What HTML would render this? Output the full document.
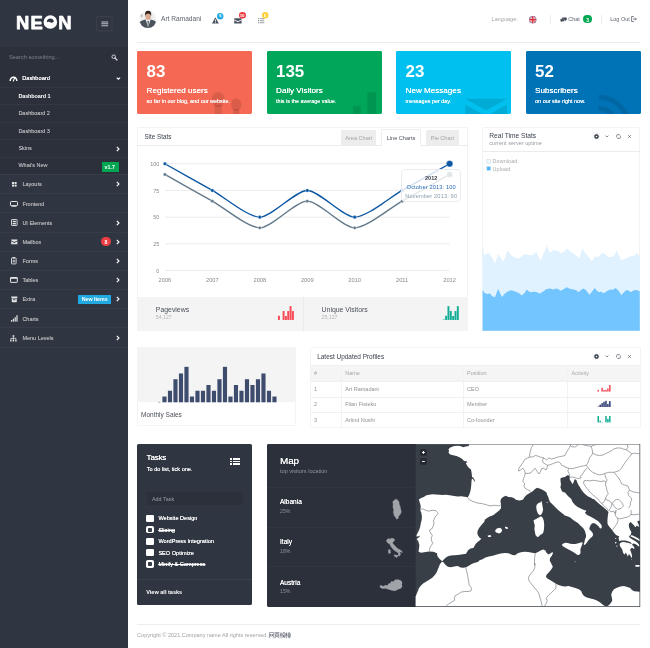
<!DOCTYPE html>
<html><head><meta charset="utf-8"><title>Neon Dashboard</title>
<style>
html,body{margin:0;padding:0}
body{width:650px;height:648px;position:relative;overflow:hidden;background:#fff;
 font-family:"Liberation Sans",sans-serif;font-size:5.5px;color:#949494}
.a{position:absolute}
.t{position:absolute;white-space:nowrap;line-height:10px;margin-top:-5px}
.b{font-weight:bold}
.w{color:#fff}
svg{position:absolute;overflow:visible}
.sb{left:0;top:0;width:128px;height:648px;background:#303641}
.ln{position:absolute;left:0;width:128px;height:1px;background:#373d48}
.mi{color:#b0b1b4;text-shadow:0 0 0.25px #aaabae}
.panel{position:absolute;border:0.6px solid #f3f3f3;box-sizing:border-box;background:#fff;border-radius:1.4px}
.tile{position:absolute;border-radius:1.4px;overflow:hidden}
.hd{color:#373e4a}
</style></head>
<body><div id="wrap" style="position:absolute;left:0;top:0;width:650px;height:648px;will-change:transform">
<div class="a sb"></div>
<svg style="left:0;top:0" width="128" height="46" viewBox="0 0 128 46"><g font-family="Liberation Sans, sans-serif" font-weight="bold" font-size="18.4" fill="#fff" stroke="#fff" stroke-width="0.75" stroke-linejoin="round"><text x="15.9" y="28.9">N</text><text x="30.6" y="28.9">E</text><text x="58.3" y="28.9">N</text></g><circle cx="50.35" cy="22.05" r="5.15" fill="none" stroke="#fff" stroke-width="3.3"/><path d="M46.6 22.6 Q48 21.2 50 22.2 Q52 23.2 54.1 21.6 L54.1 23 Q53.4 26 50.35 26 Q47.2 26 46.6 23.4 Z" fill="#fff"/><circle cx="51.9" cy="21.9" r="0.75" fill="#303641"/></svg>
<svg style="left:95.6px;top:15.6px" width="17" height="16" viewBox="0 0 17 16"><rect x="0.7" y="0.7" width="15.4" height="14.2" rx="1.2" fill="none" stroke="#454a54" stroke-width="0.6"/><path d="M5.4 5.9 H12.2 M5.4 7.8 H12.2 M5.4 9.7 H12.2" stroke="#bcbec2" stroke-width="1.05"/></svg>
<div class="a" style="left:0.00px;top:46.50px;width:128.00px;height:22.00px;background:#2b303a;"></div>
<div class="t " style="left:8.90px;top:57.20px;color:#7d818a;font-size:5.7px">Search something...</div>
<svg style="left:110.8px;top:54.2px" width="7" height="7" viewBox="0 0 7 7"><circle cx="2.7" cy="2.7" r="1.75" fill="none" stroke="#d0d2d5" stroke-width="1"/><path d="M4 4 L6 6" stroke="#d0d2d5" stroke-width="1.2" stroke-linecap="round"/></svg>
<div class="ln" style="top:68.5px;background:#353b46"></div>
<div class="a" style="left:0.00px;top:69.20px;width:128.00px;height:18.00px;background:#2b303a;"></div>
<svg style="left:9.4px;top:74.8px" width="9" height="7" viewBox="0 0 9 7"><path d="M1.2 6 A3.3 3.8 0 0 1 7.8 6" fill="none" stroke="#fff" stroke-width="1.5"/><path d="M4.3 6 L6 2.2" stroke="#fff" stroke-width="1.1" stroke-linecap="round"/></svg>
<div class="t w" style="left:22.20px;top:78.20px;font-size:5.65px;text-shadow:0 0 0.25px #fff">Dashboard</div>
<svg style="left:115.8px;top:76.8px" width="5" height="3" viewBox="0 0 5 3"><path d="M0.7 0.6 L2.4 2.2 L4.1 0.6" fill="none" stroke="#fff" stroke-width="1.05"/></svg>
<div class="a" style="left:0.00px;top:87.00px;width:128.00px;height:87.00px;background:#2b303a;"></div>
<div class="t w b" style="left:18.40px;top:96.00px;letter-spacing:-0.12px">Dashboard 1</div>
<div class="t mi" style="left:18.40px;top:113.30px;">Dashboard 2</div>
<div class="t mi" style="left:18.40px;top:130.60px;">Dashboard 3</div>
<div class="t mi" style="left:18.40px;top:147.80px;">Skins</div>
<div class="t mi" style="left:18.40px;top:165.20px;">What's New</div>
<div class="ln" style="top:87.0px;background:#323843"></div>
<div class="ln" style="top:104.4px;background:#323843"></div>
<div class="ln" style="top:121.8px;background:#323843"></div>
<div class="ln" style="top:139.2px;background:#323843"></div>
<div class="ln" style="top:156.6px;background:#323843"></div>
<svg style="left:116.00px;top:145.60px" width="4" height="6" viewBox="0 0 4 6"><path d="M0.8 0.8 L3 3 L0.8 5.2" fill="none" stroke="#fff" stroke-width="1.1"/></svg>
<div class="a" style="left:102.00px;top:161.60px;width:17.00px;height:10.00px;background:#00a651;"></div>
<div class="t w b" style="left:104.60px;top:166.70px;font-size:5.3px">v1.7</div>
<div class="t mi" style="left:22.40px;top:184.40px;">Layouts</div>
<svg style="left:116.00px;top:181.10px" width="4" height="6" viewBox="0 0 4 6"><path d="M0.8 0.8 L3 3 L0.8 5.2" fill="none" stroke="#fff" stroke-width="1.1"/></svg>
<div class="t mi" style="left:22.40px;top:203.50px;">Frontend</div>
<div class="t mi" style="left:22.40px;top:222.80px;">UI Elements</div>
<svg style="left:116.00px;top:219.50px" width="4" height="6" viewBox="0 0 4 6"><path d="M0.8 0.8 L3 3 L0.8 5.2" fill="none" stroke="#fff" stroke-width="1.1"/></svg>
<div class="t mi" style="left:22.40px;top:241.80px;">Mailbox</div>
<svg style="left:116.00px;top:238.50px" width="4" height="6" viewBox="0 0 4 6"><path d="M0.8 0.8 L3 3 L0.8 5.2" fill="none" stroke="#fff" stroke-width="1.1"/></svg>
<div class="t mi" style="left:22.40px;top:261.00px;">Forms</div>
<svg style="left:116.00px;top:257.70px" width="4" height="6" viewBox="0 0 4 6"><path d="M0.8 0.8 L3 3 L0.8 5.2" fill="none" stroke="#fff" stroke-width="1.1"/></svg>
<div class="t mi" style="left:22.40px;top:280.20px;">Tables</div>
<svg style="left:116.00px;top:276.90px" width="4" height="6" viewBox="0 0 4 6"><path d="M0.8 0.8 L3 3 L0.8 5.2" fill="none" stroke="#fff" stroke-width="1.1"/></svg>
<div class="t mi" style="left:22.40px;top:299.40px;">Extra</div>
<svg style="left:116.00px;top:296.10px" width="4" height="6" viewBox="0 0 4 6"><path d="M0.8 0.8 L3 3 L0.8 5.2" fill="none" stroke="#fff" stroke-width="1.1"/></svg>
<div class="t mi" style="left:22.40px;top:318.60px;">Charts</div>
<div class="t mi" style="left:22.40px;top:337.90px;">Menu Levels</div>
<svg style="left:116.00px;top:334.60px" width="4" height="6" viewBox="0 0 4 6"><path d="M0.8 0.8 L3 3 L0.8 5.2" fill="none" stroke="#fff" stroke-width="1.1"/></svg>
<div class="ln" style="top:173.6px"></div>
<div class="ln" style="top:192.9px"></div>
<div class="ln" style="top:212.2px"></div>
<div class="ln" style="top:231.5px"></div>
<div class="ln" style="top:250.6px"></div>
<div class="ln" style="top:269.7px"></div>
<div class="ln" style="top:288.9px"></div>
<div class="ln" style="top:308.1px"></div>
<div class="ln" style="top:327.3px"></div>
<div class="ln" style="top:346.5px"></div>
<svg style="left:11.5px;top:181.9px" width="5" height="5" viewBox="0 0 5 5"><rect x="0" y="0" width="2" height="2" fill="#e4e5e7"/><rect x="2.6" y="0" width="2" height="2" fill="#e4e5e7"/><rect x="0" y="2.6" width="2" height="2" fill="#e4e5e7"/><rect x="2.6" y="2.6" width="2" height="2" fill="#e4e5e7"/></svg>
<svg style="left:10px;top:200.6px" width="8" height="6" viewBox="0 0 8 6"><rect x="0.5" y="0.5" width="7" height="4.2" rx="0.8" fill="none" stroke="#e4e5e7" stroke-width="1"/><rect x="1.6" y="4.6" width="4.8" height="1.1" fill="#e4e5e7"/></svg>
<svg style="left:10.6px;top:219.2px" width="7" height="7" viewBox="0 0 7 7"><rect x="0.5" y="0.5" width="5.6" height="6" rx="0.6" fill="none" stroke="#e4e5e7" stroke-width="0.9"/><rect x="1.7" y="1.8" width="3.2" height="1.2" fill="#e4e5e7"/><rect x="1.7" y="3.8" width="3.2" height="1.6" fill="#e4e5e7"/></svg>
<svg style="left:10.6px;top:239px" width="7" height="6" viewBox="0 0 7 6"><path d="M0.2 0.4 H6.4 V1.4 L3.3 3.1 L0.2 1.4 Z" fill="#e4e5e7"/><path d="M0.2 2.3 L3.3 4 L6.4 2.3 V5.2 H0.2 Z" fill="#e4e5e7"/></svg>
<div class="a" style="left:101.3px;top:236.7px;width:9.6px;height:9.6px;border-radius:5px;background:#ee3d43"></div>
<div class="t w b" style="left:104.50px;top:241.80px;font-size:5.2px">8</div>
<svg style="left:11px;top:257.4px" width="6" height="8" viewBox="0 0 6 8"><rect x="0.5" y="0.9" width="4.6" height="6" rx="0.6" fill="none" stroke="#e4e5e7" stroke-width="0.9"/><rect x="1.7" y="0" width="2.2" height="1.4" fill="#e4e5e7"/><rect x="1.7" y="2.8" width="2.2" height="2.6" fill="#e4e5e7" opacity=".7"/></svg>
<svg style="left:10px;top:277.2px" width="8" height="6" viewBox="0 0 8 6"><rect x="0.5" y="0.5" width="6.8" height="4.9" rx="0.5" fill="none" stroke="#e4e5e7" stroke-width="1"/><rect x="0.5" y="0.5" width="6.8" height="1.3" fill="#e4e5e7"/></svg>
<svg style="left:10.6px;top:296px" width="7" height="7" viewBox="0 0 7 7"><path d="M0.3 0.6 H6.3 V2.2 H0.3 Z M0.8 2.7 H5.8 V5.4 Q5.8 6.3 4.9 6.3 H1.7 Q0.8 6.3 0.8 5.4 Z" fill="#e4e5e7"/><rect x="2.2" y="3.3" width="2.2" height="0.9" fill="#303641"/></svg>
<div class="a" style="left:78.40px;top:294.50px;width:32.60px;height:9.40px;background:#21a9e1;"></div>
<div class="t w b" style="left:81.80px;top:299.30px;font-size:5.3px;letter-spacing:-0.05px">New Items</div>
<svg style="left:11px;top:315px" width="7" height="7" viewBox="0 0 7 7"><rect x="0" y="5" width="1.2" height="1.6" fill="#e4e5e7"/><rect x="1.8" y="3.8" width="1.2" height="2.8" fill="#e4e5e7"/><rect x="3.6" y="2.2" width="1.2" height="4.4" fill="#e4e5e7"/><rect x="5.4" y="0.2" width="1.2" height="6.4" fill="#e4e5e7"/></svg>
<svg style="left:10.4px;top:334.6px" width="7" height="7" viewBox="0 0 7 7"><path d="M3.4 1.6 V3.4 M0.9 5.2 V3.4 H5.9 V5.2 M3.4 3.4 V5.2" fill="none" stroke="#e4e5e7" stroke-width="0.8"/><rect x="2.6" y="0.2" width="1.6" height="1.6" fill="#e4e5e7"/><rect x="0.2" y="5" width="1.4" height="1.5" fill="#e4e5e7"/><rect x="2.7" y="5" width="1.4" height="1.5" fill="#e4e5e7"/><rect x="5.2" y="5" width="1.4" height="1.5" fill="#e4e5e7"/></svg>
<svg style="left:138.5px;top:10.1px" width="17.7" height="18.2" viewBox="0 0 18 18" preserveAspectRatio="none"><defs><clipPath id="av"><circle cx="9" cy="9" r="8.9"/></clipPath><radialGradient id="avg" cx="0.5" cy="0.5" r="0.5"><stop offset="0.75" stop-color="#eeeeef"/><stop offset="1" stop-color="#f9f9f9"/></radialGradient></defs><g clip-path="url(#av)"><rect width="18" height="18" fill="url(#avg)"/><ellipse cx="2.6" cy="5.6" rx="1" ry="1.6" fill="#b9b9bb"/><path d="M-1 18 V13 Q2.5 10 6.6 9.3 L9.3 13.4 L12 9.3 Q15.8 10 19 13 V18 Z" fill="#4d535c"/><path d="M6.9 9.3 L9.3 17.6 L11.7 9.3 L9.3 10.6 Z" fill="#eef0f2"/><ellipse cx="9.3" cy="6.3" rx="2.85" ry="3.7" fill="#dba891"/><path d="M6.2 6 Q5.6 0.6 9.3 0.7 Q13 0.6 12.4 6 Q11.8 3.4 9.3 3.5 Q6.8 3.4 6.2 6 Z" fill="#2f2320"/><path d="M8.7 11 L9.3 18 L9.95 11 Z" fill="#25323a"/></g></svg>
<div class="t " style="left:161.00px;top:19.00px;font-size:6.6px;color:#5e646e">Art Ramadani</div>
<svg style="left:211.9px;top:17px" width="7" height="7" viewBox="0 0 7 7"><path d="M3.4 0.2 L6.8 6.6 H0 Z" fill="#4b5260"/><rect x="3" y="2.4" width="0.8" height="2.2" fill="#fff"/><rect x="3" y="5.1" width="0.8" height="0.8" fill="#fff"/></svg>
<svg style="left:217.3px;top:12.5px" width="6.4" height="6.4" viewBox="0 0 6.4 6.4"><circle cx="3.2" cy="3.2" r="3.2" fill="#21a9e1"/></svg>
<div class="t w b" style="left:219.30px;top:15.90px;font-size:4.4px">6</div>
<svg style="left:234px;top:17.7px" width="8" height="6" viewBox="0 0 8 6"><path d="M0.2 0.3 H7.6 V1.4 L3.9 3.3 L0.2 1.4 Z" fill="#4b5260"/><path d="M0.2 2.3 L3.9 4.2 L7.6 2.3 V5.4 H0.2 Z" fill="#4b5260"/></svg>
<svg style="left:238.6px;top:12.2px" width="7" height="6.4" viewBox="0 0 7 6.4"><rect x="0" y="0" width="7" height="6.4" rx="3.2" fill="#ee3d43"/></svg>
<div class="t w b" style="left:239.80px;top:15.60px;font-size:4.4px;letter-spacing:-0.15px">10</div>
<svg style="left:257.6px;top:17.6px" width="7" height="6" viewBox="0 0 7 6"><g fill="#8d929a"><rect x="0" y="0.2" width="1.1" height="1.1"/><rect x="1.8" y="0.3" width="4.5" height="0.9"/><rect x="0" y="2.2" width="1.1" height="1.1"/><rect x="1.8" y="2.3" width="4.5" height="0.9"/><rect x="0" y="4.2" width="1.1" height="1.1"/><rect x="1.8" y="4.3" width="4.5" height="0.9"/></g></svg>
<svg style="left:261.8px;top:12.2px" width="6.4" height="6.4" viewBox="0 0 6.4 6.4"><circle cx="3.2" cy="3.2" r="3.2" fill="#fcd036"/></svg>
<div class="t w b" style="left:263.80px;top:15.60px;font-size:4.4px">5</div>
<div class="t " style="left:491.60px;top:19.40px;font-size:5.4px;color:#a3a5a9;letter-spacing:0.08px">Language:</div>
<svg style="left:528.8px;top:15.8px" width="7.6" height="7.6" viewBox="0 0 8 8"><defs><clipPath id="fl"><circle cx="4" cy="4" r="3.9"/></clipPath></defs><g clip-path="url(#fl)"><rect width="8" height="8" fill="#2b3f8f"/><path d="M0 0 L8 8 M8 0 L0 8" stroke="#f2d7dc" stroke-width="1.6"/><path d="M0 0 L8 8 M8 0 L0 8" stroke="#d8343f" stroke-width="0.7"/><path d="M4 0 V8 M0 4 H8" stroke="#f5e6e8" stroke-width="2.6"/><path d="M4 0 V8 M0 4 H8" stroke="#d8343f" stroke-width="1.5"/></g></svg>
<div class="a" style="left:550.00px;top:14.60px;width:0.50px;height:9.40px;background:#ececec;"></div>
<svg style="left:559.6px;top:16.6px" width="7" height="6" viewBox="0 0 7 6"><path d="M2.6 0.4 H6 Q6.7 0.4 6.7 1.1 V2.6 Q6.7 3.3 6 3.3 H5.6 L5.8 4.3 L4.4 3.3 H2.6 Q1.9 3.3 1.9 2.6 V1.1 Q1.9 0.4 2.6 0.4 Z" fill="#3d4450"/><path d="M0.9 1.8 H3.6 Q4.2 1.8 4.2 2.4 V3.8 Q4.2 4.4 3.6 4.4 H2.2 L1.1 5.3 L1.3 4.4 H0.9 Q0.3 4.4 0.3 3.8 V2.4 Q0.3 1.8 0.9 1.8 Z" fill="#3d4450" stroke="#fff" stroke-width="0.3"/></svg>
<div class="t " style="left:568.20px;top:19.40px;font-size:5.5px;color:#5e646e">Chat</div>
<div class="a" style="left:582.9px;top:15.4px;width:9.6px;height:8px;border-radius:4px;background:#00a651"></div>
<div class="t w b" style="left:586.20px;top:19.50px;font-size:5px">3</div>
<div class="a" style="left:601.00px;top:14.60px;width:0.50px;height:9.40px;background:#ececec;"></div>
<div class="t " style="left:610.20px;top:19.40px;font-size:5.5px;color:#5e646e">Log Out</div>
<svg style="left:630.8px;top:16.4px" width="6" height="6" viewBox="0 0 6 6"><path d="M2.8 0.5 H0.6 V5.5 H2.8" fill="none" stroke="#5e646e" stroke-width="0.8"/><path d="M2 3 H5.4 M4 1.6 L5.4 3 L4 4.4" fill="none" stroke="#5e646e" stroke-width="0.8"/></svg>
<div class="a" style="left:137.00px;top:42.00px;width:503.40px;height:0.60px;background:#ebebeb;"></div>
<div class="tile" style="left:137.0px;top:51px;width:115px;height:62.8px;background:#f56954">
<svg style="left:0;top:0" width="115" height="63" viewBox="0 0 115 63"><g fill="rgba(0,0,0,0.11)"><ellipse cx="81.2" cy="48.6" rx="6.5" ry="7.7"/><rect x="77.6" y="54" width="7.2" height="9"/><ellipse cx="99.3" cy="53.6" rx="5.2" ry="6.3"/><rect x="96.2" y="58" width="6.2" height="5"/></g></svg>
<div class="t w b" style="left:9.50px;top:21.30px;font-size:16.9px;line-height:20px;margin-top:-10px">83</div>
<div class="t w" style="left:9.60px;top:40.20px;font-size:8.1px;text-shadow:0 0 0.25px #fff">Registered users</div>
<div class="t w" style="left:9.60px;top:49.70px;font-size:5.45px;text-shadow:0 0 0.2px #fff">so far in our blog, and our website.</div>
</div>
<div class="tile" style="left:266.5px;top:51px;width:115px;height:62.8px;background:#00a65a">
<svg style="left:0;top:0" width="115" height="63" viewBox="0 0 115 63"><g fill="rgba(0,0,0,0.1)"><rect x="86" y="54.8" width="7.9" height="8"/><rect x="100.3" y="41.3" width="8.8" height="21.5"/></g></svg>
<div class="t w b" style="left:9.50px;top:21.30px;font-size:16.9px;line-height:20px;margin-top:-10px">135</div>
<div class="t w" style="left:9.60px;top:40.20px;font-size:8.1px;text-shadow:0 0 0.25px #fff">Daily Visitors</div>
<div class="t w" style="left:9.60px;top:49.70px;font-size:5.45px;text-shadow:0 0 0.2px #fff">this is the average value.</div>
</div>
<div class="tile" style="left:396.0px;top:51px;width:115px;height:62.8px;background:#00c0ef">
<svg style="left:0;top:0" width="115" height="63" viewBox="0 0 115 63"><g fill="rgba(0,0,0,0.1)"><path d="M69.3 47.8 H111.1 L90.2 59.6 Z"/><path d="M69.3 53.4 L90.2 65.2 L111.1 53.4 V63 H69.3 Z"/></g></svg>
<div class="t w b" style="left:9.50px;top:21.30px;font-size:16.9px;line-height:20px;margin-top:-10px">23</div>
<div class="t w" style="left:9.60px;top:40.20px;font-size:8.1px;text-shadow:0 0 0.25px #fff">New Messages</div>
<div class="t w" style="left:9.60px;top:49.70px;font-size:5.45px;text-shadow:0 0 0.2px #fff">messages per day.</div>
</div>
<div class="tile" style="left:525.5px;top:51px;width:115px;height:62.8px;background:#0073b7">
<svg style="left:0;top:0" width="115" height="63" viewBox="0 0 115 63"><g fill="none" stroke="rgba(0,0,0,0.1)" stroke-width="4.9"><path d="M72.7 46.2 A29.6 29.6 0 0 1 102.3 75.8"/><path d="M72.7 57.5 A18.3 18.3 0 0 1 91 75.8"/></g></svg>
<div class="t w b" style="left:9.50px;top:21.30px;font-size:16.9px;line-height:20px;margin-top:-10px">52</div>
<div class="t w" style="left:9.60px;top:40.20px;font-size:8.1px;text-shadow:0 0 0.25px #fff">Subscribers</div>
<div class="t w" style="left:9.60px;top:49.70px;font-size:5.45px;text-shadow:0 0 0.2px #fff">on our site right now.</div>
</div>
<div class="panel" style="left:136.6px;top:126.6px;width:331.8px;height:204.6px"></div>
<div class="a" style="left:137.20px;top:145.20px;width:330.60px;height:0.60px;background:#ebebeb;"></div>
<div class="t hd" style="left:144.40px;top:136.50px;font-size:6.3px">Site Stats</div>
<div class="a" style="left:340.50px;top:130.40px;width:35.60px;height:14.90px;background:#ededee;border-radius:1.2px 1.2px 0 0"></div>
<div class="t " style="left:345.30px;top:137.90px;font-size:5.55px;color:#a1a3a7">Area Chart</div>
<div class="a" style="left:381.4px;top:128.9px;width:39.2px;height:17.4px;background:#fff;border:0.6px solid #efefef;border-bottom:none;box-sizing:border-box;border-radius:1.2px 1.2px 0 0"></div>
<div class="t " style="left:386.70px;top:137.90px;font-size:5.6px;color:#4a505b">Line Charts</div>
<div class="a" style="left:425.90px;top:130.40px;width:32.90px;height:14.90px;background:#ededee;border-radius:1.2px 1.2px 0 0"></div>
<div class="t " style="left:430.80px;top:137.90px;font-size:5.55px;color:#a1a3a7">Pie Chart</div>
<svg style="left:0;top:0" width="650" height="648" viewBox="0 0 650 648"><path d="M165,163.75 H449.6" stroke="#e6e6e6" stroke-width="0.8"/><path d="M165,190.45 H449.6" stroke="#e6e6e6" stroke-width="0.8"/><path d="M165,217.15 H449.6" stroke="#e6e6e6" stroke-width="0.8"/><path d="M165,243.85 H449.6" stroke="#e6e6e6" stroke-width="0.8"/><path d="M165,270.55 H449.6" stroke="#e6e6e6" stroke-width="0.8"/><path d="M164.90,174.43C176.76,181.11,200.49,194.45,212.35,201.13C224.21,207.80,247.94,227.83,259.80,227.83C271.66,227.83,295.39,201.13,307.25,201.13C319.11,201.13,342.84,227.83,354.70,227.83C366.56,227.83,390.29,207.80,402.15,201.13C414.01,194.45,437.74,181.11,449.60,174.43" fill="none" stroke="#61798b" stroke-width="1.4"/><path d="M164.90,163.75C176.76,170.43,200.49,183.77,212.35,190.45C224.21,197.12,247.94,217.15,259.80,217.15C271.66,217.15,295.39,190.45,307.25,190.45C319.11,190.45,342.84,217.15,354.70,217.15C366.56,217.15,390.29,197.12,402.15,190.45C414.01,183.77,437.74,170.43,449.60,163.75" fill="none" stroke="#0b57a4" stroke-width="1.4"/><circle cx="164.90" cy="174.43" r="1.70" fill="#61798b" stroke="#fff" stroke-width="0.4"/><circle cx="212.35" cy="201.13" r="1.70" fill="#61798b" stroke="#fff" stroke-width="0.4"/><circle cx="259.80" cy="227.83" r="1.70" fill="#61798b" stroke="#fff" stroke-width="0.4"/><circle cx="307.25" cy="201.13" r="1.70" fill="#61798b" stroke="#fff" stroke-width="0.4"/><circle cx="354.70" cy="227.83" r="1.70" fill="#61798b" stroke="#fff" stroke-width="0.4"/><circle cx="402.15" cy="201.13" r="1.70" fill="#61798b" stroke="#fff" stroke-width="0.4"/><circle cx="449.60" cy="174.43" r="3.00" fill="#61798b" stroke="#fff" stroke-width="0.4"/><circle cx="164.90" cy="163.75" r="1.80" fill="#0b57a4" stroke="#fff" stroke-width="0.4"/><circle cx="212.35" cy="190.45" r="1.80" fill="#0b57a4" stroke="#fff" stroke-width="0.4"/><circle cx="259.80" cy="217.15" r="1.80" fill="#0b57a4" stroke="#fff" stroke-width="0.4"/><circle cx="307.25" cy="190.45" r="1.80" fill="#0b57a4" stroke="#fff" stroke-width="0.4"/><circle cx="354.70" cy="217.15" r="1.80" fill="#0b57a4" stroke="#fff" stroke-width="0.4"/><circle cx="402.15" cy="190.45" r="1.80" fill="#0b57a4" stroke="#fff" stroke-width="0.4"/><circle cx="449.60" cy="163.75" r="3.30" fill="#0b57a4" stroke="#fff" stroke-width="0.4"/></svg>
<div class="t" style="left:130px;width:29.2px;text-align:right;top:163.85px;font-size:5.4px;color:#888">100</div>
<div class="t" style="left:130px;width:29.2px;text-align:right;top:190.55px;font-size:5.4px;color:#888">75</div>
<div class="t" style="left:130px;width:29.2px;text-align:right;top:217.25px;font-size:5.4px;color:#888">50</div>
<div class="t" style="left:130px;width:29.2px;text-align:right;top:243.95px;font-size:5.4px;color:#888">25</div>
<div class="t" style="left:130px;width:29.2px;text-align:right;top:270.65px;font-size:5.4px;color:#888">0</div>
<div class="t" style="left:144.90px;width:40px;text-align:center;top:280.1px;font-size:5.7px;color:#8a8a8a">2006</div>
<div class="t" style="left:192.35px;width:40px;text-align:center;top:280.1px;font-size:5.7px;color:#8a8a8a">2007</div>
<div class="t" style="left:239.80px;width:40px;text-align:center;top:280.1px;font-size:5.7px;color:#8a8a8a">2008</div>
<div class="t" style="left:287.25px;width:40px;text-align:center;top:280.1px;font-size:5.7px;color:#8a8a8a">2009</div>
<div class="t" style="left:334.70px;width:40px;text-align:center;top:280.1px;font-size:5.7px;color:#8a8a8a">2010</div>
<div class="t" style="left:382.15px;width:40px;text-align:center;top:280.1px;font-size:5.7px;color:#8a8a8a">2011</div>
<div class="t" style="left:429.60px;width:40px;text-align:center;top:280.1px;font-size:5.7px;color:#8a8a8a">2012</div>
<div class="a" style="left:400.8px;top:168.9px;width:60px;height:33px;background:rgba(255,255,255,0.82);border:0.6px solid rgba(232,234,237,0.95);box-sizing:border-box;border-radius:4.4px"></div>
<div class="t b" style="left:401.6px;width:59.2px;text-align:center;top:178.2px;font-size:5.6px;color:#3c424c">2012</div>
<div class="t" style="left:396.6px;width:69.2px;text-align:center;top:187px;font-size:5.7px;color:#2a6bb0;letter-spacing:0.12px">October 2013: 100</div>
<div class="t" style="left:396.6px;width:69.2px;text-align:center;top:195.6px;font-size:5.7px;color:#8a9fae;letter-spacing:0.12px">November 2013: 90</div>
<div class="a" style="left:137.20px;top:296.60px;width:330.60px;height:34.00px;background:#f4f4f4;"></div>
<div class="a" style="left:302.80px;top:296.60px;width:0.60px;height:34.00px;background:#eaeaea;"></div>
<div class="t " style="left:155.80px;top:309.80px;font-size:6.9px;color:#4a4f59">Pageviews</div>
<div class="t " style="left:155.80px;top:317.20px;font-size:5.2px;color:#b3b5b8">54,127</div>
<div class="t " style="left:321.60px;top:309.80px;font-size:6.9px;color:#4a4f59">Unique Visitors</div>
<div class="t " style="left:321.60px;top:317.20px;font-size:5.2px;color:#b3b5b8">25,127</div>
<svg style="left:0;top:0" width="650" height="648" viewBox="0 0 650 648"><rect x="277.95" y="315.75" width="1.95" height="4.20" fill="#f74a55"/><rect x="282.61" y="311.05" width="1.95" height="8.90" fill="#f74a55"/><rect x="284.94" y="316.05" width="1.95" height="3.90" fill="#f74a55"/><rect x="287.27" y="311.05" width="1.95" height="8.90" fill="#f74a55"/><rect x="289.60" y="306.15" width="1.95" height="13.80" fill="#f74a55"/><rect x="291.93" y="311.05" width="1.95" height="8.90" fill="#f74a55"/><rect x="442.80" y="319.45" width="1.95" height="0.50" fill="#12ad96"/><rect x="445.14" y="315.75" width="1.95" height="4.20" fill="#12ad96"/><rect x="447.48" y="306.15" width="1.95" height="13.80" fill="#12ad96"/><rect x="449.82" y="311.05" width="1.95" height="8.90" fill="#12ad96"/><rect x="452.16" y="316.05" width="1.95" height="3.90" fill="#12ad96"/><rect x="454.50" y="311.05" width="1.95" height="8.90" fill="#12ad96"/><rect x="456.84" y="306.15" width="1.95" height="13.80" fill="#12ad96"/></svg>
<div class="panel" style="left:482.2px;top:126.6px;width:158px;height:204.6px;overflow:hidden"></div>
<div class="a" style="left:482.80px;top:150.80px;width:156.80px;height:0.60px;background:#ebebeb;"></div>
<div class="t hd" style="left:489.30px;top:135.80px;font-size:6.65px">Real Time Stats</div>
<div class="t " style="left:489.30px;top:143.20px;font-size:5.57px;color:#999b9f">current server uptime</div>
<div class="a" style="left:592.40px;top:132.30px;width:7.6px;height:7.6px;background:#f8f8f9;border-radius:1px"></div><svg style="left:593.70px;top:133.60px" width="5" height="5" viewBox="0 0 5 5"><circle cx="2.5" cy="2.5" r="1.5" fill="none" stroke="#3b424d" stroke-width="1.35"/><circle cx="2.5" cy="2.5" r="2.15" fill="none" stroke="#3b424d" stroke-width="0.6" stroke-dasharray="0.8 0.89"/></svg><svg style="left:605.4px;top:134.60px" width="4" height="3" viewBox="0 0 4 3"><path d="M0.6 0.6 L2 2 L3.4 0.6" fill="none" stroke="#62676f" stroke-width="0.75"/></svg><svg style="left:615.9px;top:133.50px" width="5" height="5" viewBox="0 0 5 5"><path d="M0.6 3.4 V1.3 Q0.6 0.7 1.2 0.7 H3.2 M4.4 1.6 V3.7 Q4.4 4.3 3.8 4.3 H1.8" fill="none" stroke="#62676f" stroke-width="0.7"/><path d="M2.8 -0.1 L3.9 0.7 L2.8 1.5 Z M2.2 3.5 L1.1 4.3 L2.2 5.1 Z" fill="#62676f"/></svg><svg style="left:627.6px;top:134.60px" width="3" height="3" viewBox="0 0 3 3"><path d="M0.3 0.3 L2.7 2.7 M2.7 0.3 L0.3 2.7" stroke="#62676f" stroke-width="0.9"/></svg>
<svg style="left:0;top:0" width="650" height="648" viewBox="0 0 650 648"><rect x="486.9" y="159.5" width="3.6" height="3.6" fill="#f2f9ff" stroke="#c6d6e4" stroke-width="0.55"/><rect x="486.9" y="166.7" width="3.6" height="3.6" fill="#4fb2f2" stroke="#a8d8f8" stroke-width="0.55"/></svg>
<div class="t " style="left:492.60px;top:161.40px;font-size:5.4px;color:#a9abae;letter-spacing:0.1px">Download</div>
<div class="t " style="left:492.60px;top:168.60px;font-size:5.4px;color:#a9abae;letter-spacing:0.1px">Upload</div>
<svg style="left:0;top:0" width="650" height="648" viewBox="0 0 650 648"><polygon points="482.6,330.8 482.62,247.19 484.58,255.69 486.54,253.73 488.50,253.08 490.46,255.04 493.08,259.62 495.04,263.54 496.74,258.31 498.31,254.12 500.27,257.00 502.88,261.58 504.85,258.31 507.46,250.46 509.42,253.08 512.04,256.35 515.31,257.65 518.58,258.57 521.85,256.35 525.12,254.12 527.73,254.65 531.00,255.43 533.62,254.38 536.23,251.77 538.19,255.69 540.42,260.66 542.77,255.69 544.73,251.12 546.69,245.49 548.00,249.15 549.96,253.08 552.58,250.20 555.85,250.46 558.00,251.12 560.62,253.08 563.88,251.77 567.15,248.50 570.42,251.77 573.69,253.73 576.96,256.35 579.58,258.31 582.19,248.50 584.81,252.42 588.08,256.35 592.00,261.58 595.27,256.35 597.88,257.00 600.50,254.38 603.12,252.82 605.73,255.04 609.00,257.26 612.27,256.74 614.88,254.38 616.85,250.46 618.81,255.04 621.42,260.27 624.69,258.96 627.96,257.26 631.23,256.35 634.50,255.43 637.12,253.34 639.73,256.35 639.8,330.8" fill="#e0f1ff"/><polygon points="482.6,330.8 482.62,289.69 484.58,292.96 487.19,293.88 489.81,293.62 492.42,296.23 495.04,297.28 497.00,291.65 498.31,289.04 499.62,292.31 501.97,296.88 504.85,293.62 507.46,291.65 510.73,290.35 513.35,290.74 515.96,291.65 519.23,293.35 521.85,295.58 524.46,292.96 526.82,289.43 528.38,291.00 530.35,292.31 533.62,291.65 536.23,292.05 540.15,293.62 543.42,291.26 546.69,289.04 549.96,288.38 553.23,289.43 555.85,288.38 558.00,289.04 560.62,290.74 563.88,289.04 566.50,287.34 569.77,288.65 573.69,289.43 576.31,290.35 578.66,292.31 580.88,289.95 583.50,288.38 586.12,290.35 589.38,294.66 592.00,291.65 594.62,288.12 596.58,290.35 598.80,292.31 601.15,291.65 603.77,293.35 607.04,291.00 610.31,289.43 612.92,289.69 615.54,288.12 618.15,290.35 621.42,294.92 624.04,292.31 626.65,289.69 629.27,291.26 631.23,292.05 633.85,290.35 636.46,289.95 639.73,291.26 639.8,330.8" fill="#73c5ff"/></svg>
<div class="panel" style="left:136.6px;top:346.6px;width:159.4px;height:79.4px"></div>
<div class="a" style="left:137.20px;top:347.20px;width:158.20px;height:55.20px;background:#f4f4f4;"></div>
<svg style="left:0;top:0" width="650" height="648" viewBox="0 0 650 648"><rect x="157.90" y="401.90" width="2.60" height="0.40" fill="#3e4d6e"/><rect x="162.40" y="396.53" width="4.15" height="5.77" fill="#3e4d6e"/><rect x="167.90" y="390.76" width="4.15" height="11.54" fill="#3e4d6e"/><rect x="173.40" y="379.22" width="4.15" height="23.08" fill="#3e4d6e"/><rect x="178.90" y="373.45" width="4.15" height="28.85" fill="#3e4d6e"/><rect x="184.40" y="366.81" width="4.15" height="35.49" fill="#3e4d6e"/><rect x="189.90" y="396.53" width="4.15" height="5.77" fill="#3e4d6e"/><rect x="195.40" y="390.76" width="4.15" height="11.54" fill="#3e4d6e"/><rect x="200.90" y="390.76" width="4.15" height="11.54" fill="#3e4d6e"/><rect x="206.40" y="384.99" width="4.15" height="17.31" fill="#3e4d6e"/><rect x="211.90" y="390.76" width="4.15" height="11.54" fill="#3e4d6e"/><rect x="217.40" y="379.22" width="4.15" height="23.08" fill="#3e4d6e"/><rect x="222.90" y="366.81" width="4.15" height="35.49" fill="#3e4d6e"/><rect x="228.40" y="396.53" width="4.15" height="5.77" fill="#3e4d6e"/><rect x="233.90" y="384.99" width="4.15" height="17.31" fill="#3e4d6e"/><rect x="239.40" y="390.76" width="4.15" height="11.54" fill="#3e4d6e"/><rect x="244.90" y="379.22" width="4.15" height="23.08" fill="#3e4d6e"/><rect x="250.40" y="384.99" width="4.15" height="17.31" fill="#3e4d6e"/><rect x="255.90" y="379.22" width="4.15" height="23.08" fill="#3e4d6e"/><rect x="261.40" y="373.45" width="4.15" height="28.85" fill="#3e4d6e"/><rect x="266.90" y="390.76" width="4.15" height="11.54" fill="#3e4d6e"/><rect x="272.40" y="396.53" width="4.15" height="5.77" fill="#3e4d6e"/></svg>
<div class="t hd" style="left:141.00px;top:414.50px;font-size:6.5px;color:#4a4f59">Monthly Sales</div>
<div class="panel" style="left:310.2px;top:346.6px;width:330.4px;height:81.6px"></div>
<div class="t hd" style="left:317.20px;top:356.60px;font-size:6.45px">Latest Updated Profiles</div>
<div class="a" style="left:592.40px;top:352.60px;width:7.6px;height:7.6px;background:#f8f8f9;border-radius:1px"></div><svg style="left:593.70px;top:353.90px" width="5" height="5" viewBox="0 0 5 5"><circle cx="2.5" cy="2.5" r="1.5" fill="none" stroke="#3b424d" stroke-width="1.35"/><circle cx="2.5" cy="2.5" r="2.15" fill="none" stroke="#3b424d" stroke-width="0.6" stroke-dasharray="0.8 0.89"/></svg><svg style="left:605.4px;top:354.90px" width="4" height="3" viewBox="0 0 4 3"><path d="M0.6 0.6 L2 2 L3.4 0.6" fill="none" stroke="#62676f" stroke-width="0.75"/></svg><svg style="left:615.9px;top:353.80px" width="5" height="5" viewBox="0 0 5 5"><path d="M0.6 3.4 V1.3 Q0.6 0.7 1.2 0.7 H3.2 M4.4 1.6 V3.7 Q4.4 4.3 3.8 4.3 H1.8" fill="none" stroke="#62676f" stroke-width="0.7"/><path d="M2.8 -0.1 L3.9 0.7 L2.8 1.5 Z M2.2 3.5 L1.1 4.3 L2.2 5.1 Z" fill="#62676f"/></svg><svg style="left:627.6px;top:354.90px" width="3" height="3" viewBox="0 0 3 3"><path d="M0.3 0.3 L2.7 2.7 M2.7 0.3 L0.3 2.7" stroke="#62676f" stroke-width="0.9"/></svg>
<div class="a" style="left:310.80px;top:365.40px;width:329.20px;height:16.00px;background:#f5f5f6;"></div>
<div class="a" style="left:310.80px;top:365.20px;width:329.20px;height:0.60px;background:#f0f0f0;"></div>
<div class="a" style="left:310.80px;top:381.20px;width:329.20px;height:0.60px;background:#f0f0f0;"></div>
<div class="a" style="left:310.80px;top:396.60px;width:329.20px;height:0.60px;background:#f0f0f0;"></div>
<div class="a" style="left:310.80px;top:412.20px;width:329.20px;height:0.60px;background:#f0f0f0;"></div>
<div class="a" style="left:341.40px;top:365.40px;width:0.60px;height:62.20px;background:#f2f2f2;"></div>
<div class="a" style="left:463.40px;top:365.40px;width:0.60px;height:62.20px;background:#f2f2f2;"></div>
<div class="a" style="left:567.40px;top:365.40px;width:0.60px;height:62.20px;background:#f2f2f2;"></div>
<div class="t " style="left:314.00px;top:373.40px;color:#a6a7aa;font-size:5.5px">#</div>
<div class="t " style="left:345.20px;top:373.40px;color:#a6a7aa;font-size:5.5px">Name</div>
<div class="t " style="left:467.00px;top:373.40px;color:#a6a7aa;font-size:5.5px">Position</div>
<div class="t " style="left:571.60px;top:373.40px;color:#a6a7aa;font-size:5.5px">Activity</div>
<div class="t " style="left:314.00px;top:389.00px;color:#8f9195;font-size:5.5px">1</div>
<div class="t " style="left:345.20px;top:389.00px;color:#8f9195;font-size:5.5px">Art Ramadani</div>
<div class="t " style="left:467.00px;top:389.00px;color:#8f9195;font-size:5.5px">CEO</div>
<div class="t " style="left:314.00px;top:404.10px;color:#8f9195;font-size:5.5px">2</div>
<div class="t " style="left:345.20px;top:404.10px;color:#8f9195;font-size:5.5px">Filan Fisteku</div>
<div class="t " style="left:467.00px;top:404.10px;color:#8f9195;font-size:5.5px">Member</div>
<div class="t " style="left:314.00px;top:419.80px;color:#8f9195;font-size:5.5px">3</div>
<div class="t " style="left:345.20px;top:419.80px;color:#8f9195;font-size:5.5px">Arlind Nushi</div>
<div class="t " style="left:467.00px;top:419.80px;color:#8f9195;font-size:5.5px">Co-founder</div>
<svg style="left:0;top:0" width="650" height="648" viewBox="0 0 650 648"><rect x="597.50" y="389.90" width="1.50" height="1.70" fill="#f74a55"/><rect x="601.36" y="387.80" width="1.50" height="3.80" fill="#f74a55"/><rect x="603.29" y="389.90" width="1.50" height="1.70" fill="#f74a55"/><rect x="605.22" y="389.90" width="1.50" height="1.70" fill="#f74a55"/><rect x="607.15" y="388.50" width="1.50" height="3.10" fill="#f74a55"/><rect x="609.08" y="385.00" width="1.50" height="6.60" fill="#f74a55"/></svg>
<svg style="left:0;top:0" width="650" height="648" viewBox="0 0 650 648"><rect x="597.50" y="406.50" width="1.50" height="0.50" fill="#2d3a74"/><rect x="599.43" y="404.60" width="1.50" height="2.40" fill="#2d3a74"/><rect x="601.36" y="403.20" width="1.50" height="3.80" fill="#2d3a74"/><rect x="603.29" y="401.80" width="1.50" height="5.20" fill="#2d3a74"/><rect x="605.22" y="400.80" width="1.50" height="6.20" fill="#2d3a74"/><rect x="607.15" y="403.90" width="1.50" height="3.10" fill="#2d3a74"/><rect x="609.08" y="401.10" width="1.50" height="5.90" fill="#2d3a74"/></svg>
<svg style="left:0;top:0" width="650" height="648" viewBox="0 0 650 648"><rect x="597.50" y="416.00" width="1.50" height="6.40" fill="#12ad96"/><rect x="599.43" y="420.70" width="1.50" height="1.70" fill="#12ad96"/><rect x="601.36" y="422.05" width="1.50" height="0.35" fill="#12ad96"/><rect x="605.22" y="416.00" width="1.50" height="6.40" fill="#12ad96"/><rect x="607.15" y="418.90" width="1.50" height="3.50" fill="#12ad96"/><rect x="609.08" y="416.00" width="1.50" height="6.40" fill="#12ad96"/></svg>
<div class="a" style="left:137px;top:444px;width:115.2px;height:161px;background:#303641;border-radius:1.6px"></div>
<div class="t w" style="left:146.60px;top:457.80px;font-size:8.1px;text-shadow:0 0 0.25px #fff;letter-spacing:-0.25px">Tasks</div>
<div class="t w" style="left:146.80px;top:469.10px;font-size:5.55px;text-shadow:0 0 0.2px #fff">To do list, tick one.</div>
<div class="a" style="left:229.80px;top:457.80px;width:1.90px;height:1.80px;background:#fff;"></div><div class="a" style="left:232.80px;top:457.80px;width:6.90px;height:1.80px;background:#fff;"></div>
<div class="a" style="left:229.80px;top:460.55px;width:1.90px;height:1.80px;background:#fff;"></div><div class="a" style="left:232.80px;top:460.55px;width:6.90px;height:1.80px;background:#fff;"></div>
<div class="a" style="left:229.80px;top:463.30px;width:1.90px;height:1.80px;background:#fff;"></div><div class="a" style="left:232.80px;top:463.30px;width:6.90px;height:1.80px;background:#fff;"></div>
<div class="a" style="left:146.80px;top:492.00px;width:96.20px;height:13.00px;background:#2b303a;border-radius:1px"></div>
<div class="t " style="left:152.00px;top:498.60px;font-size:5.4px;color:#9a9da4">Add Task</div>
<div class="a" style="left:146.2px;top:514.70px;width:7.4px;height:7.4px;border-radius:1.3px;background:#fff"></div>
<div class="t w" style="left:158.40px;top:518.40px;font-size:5.6px;text-shadow:0 0 0.2px #fff">Website Design</div>
<div class="a" style="left:146.2px;top:526.10px;width:7.4px;height:7.4px;border-radius:1.8px;background:#fff"></div>
<div class="a" style="left:148.05px;top:527.95px;width:3.7px;height:3.7px;border-radius:0.7px;background:#3a404b"></div>
<div class="t w" style="left:158.40px;top:529.80px;font-size:5.6px;text-decoration:line-through;text-shadow:0 0 0.2px #fff">Slicing</div>
<div class="a" style="left:146.2px;top:537.50px;width:7.4px;height:7.4px;border-radius:1.3px;background:#fff"></div>
<div class="t w" style="left:158.40px;top:541.20px;font-size:5.6px;text-shadow:0 0 0.2px #fff">WordPress Integration</div>
<div class="a" style="left:146.2px;top:548.90px;width:7.4px;height:7.4px;border-radius:1.3px;background:#fff"></div>
<div class="t w" style="left:158.40px;top:552.60px;font-size:5.6px;text-shadow:0 0 0.2px #fff">SEO Optimize</div>
<div class="a" style="left:146.2px;top:560.30px;width:7.4px;height:7.4px;border-radius:1.8px;background:#fff"></div>
<div class="a" style="left:148.05px;top:562.15px;width:3.7px;height:3.7px;border-radius:0.7px;background:#3a404b"></div>
<div class="t w" style="left:158.40px;top:564.00px;font-size:5.6px;text-decoration:line-through;text-shadow:0 0 0.2px #fff">Minify &amp; Compress</div>
<div class="a" style="left:137.00px;top:579.20px;width:115.20px;height:0.60px;background:#3b414c;"></div>
<div class="t w b" style="left:146.20px;top:592.20px;font-size:5.55px">View all tasks</div>
<div class="a" style="left:266.8px;top:443.8px;width:148.9px;height:163.4px;background:#2b303a;border-radius:1.4px 0 0 1.4px"></div>
<div class="t w" style="left:280.00px;top:460.80px;font-size:9.9px;text-shadow:0 0 0.3px #fff;letter-spacing:-0.1px">Map</div>
<div class="t " style="left:280.00px;top:471.00px;font-size:5.58px;color:#91959d">top visitors location</div>
<div class="a" style="left:266.80px;top:486.60px;width:148.40px;height:0.60px;background:#30353e;"></div>
<div class="a" style="left:266.80px;top:526.50px;width:148.40px;height:0.60px;background:#30353e;"></div>
<div class="a" style="left:266.80px;top:566.40px;width:148.40px;height:0.60px;background:#30353e;"></div>
<div class="t w" style="left:280.00px;top:502.30px;font-size:6.55px;text-shadow:0 0 0.25px #fff">Albania</div>
<div class="t " style="left:280.00px;top:510.60px;font-size:5.2px;color:#8c9098">25%</div>
<div class="t w" style="left:280.00px;top:542.20px;font-size:6.55px;text-shadow:0 0 0.25px #fff">Italy</div>
<div class="t " style="left:280.00px;top:551.20px;font-size:5.2px;color:#8c9098">18%</div>
<div class="t w" style="left:280.00px;top:582.50px;font-size:6.55px;text-shadow:0 0 0.25px #fff">Austria</div>
<div class="t " style="left:280.00px;top:591.40px;font-size:5.2px;color:#8c9098">15%</div>
<svg style="left:392.2px;top:498.6px" width="10" height="21" viewBox="0 0 10 21"><path d="M3.2 0.4 L5 0.2 L5.8 1.6 L7 2.4 L7.2 5 L8.2 7.4 L8.8 10.6 L9.4 13 L8.2 15.6 L6.6 17.2 L6.2 19.6 L4.6 20.2 L3.6 18.4 L2.2 16.8 L1.4 13.6 L1.6 10.4 L0.8 8 L1.2 5 L0.6 3 L1.8 1.6 Z" fill="#a0a3a8" stroke="#a0a3a8" stroke-width="0.3"/></svg>
<svg style="left:385.8px;top:538.2px" width="17" height="20" viewBox="0 0 17 20"><path d="M0.6 2.2 L2 0.8 L4 1.2 L5.4 0.4 L7.4 0.6 L8.4 1.6 L8 3.2 L6.4 4 L6.8 5.8 L8.8 7.8 L10.6 10 L13 11.4 L15.4 12.8 L16.4 14.4 L14.8 13.8 L13.6 14.2 L14.4 16 L13.4 18 L12.4 17.6 L12.6 15.6 L11.2 13.8 L9 12.8 L6.6 10.6 L4.8 8 L3.6 5.6 L1.8 5 L1 3.8 Z M8.2 17 L11.8 17.4 L11 19.4 L8.6 18.2 Z M2.4 12.2 L4 11.6 L4.4 14.8 L2.8 15.4 Z" fill="#a0a3a8" stroke="#a0a3a8" stroke-width="0.7" stroke-linejoin="round"/></svg>
<svg style="left:379px;top:579px" width="24" height="13" viewBox="0 0 24 13"><path d="M0.4 6.8 L2.4 6.2 L4 7.2 L6.6 6 L8.4 6.4 L9.4 4.4 L11.2 4.2 L12.2 2.2 L14.4 2.6 L16.4 0.6 L19.4 0.4 L22 1.4 L23.4 3.4 L22.8 5.6 L23.4 7.4 L21.8 9.6 L19 10.4 L16 12 L12.6 11.4 L9.6 10.4 L6.4 9.6 L3.6 9.8 L1.6 9 Z" fill="#a0a3a8"/></svg>
<svg style="left:0;top:0" width="650" height="648" viewBox="0 0 650 648"><defs><clipPath id="mc"><rect x="415.6" y="444.6" width="223.9" height="161.7"/></clipPath></defs>
<rect x="415.6" y="444.1" width="224.6" height="162.9" fill="#383f47"/>
<g clip-path="url(#mc)">
<path d="M469.2 444.6 L468.7 446.1 L465.8 446.5 L462.9 447.2 L461.2 446.3 L458.3 445.7 L454.2 446.1 L450.2 447.5 L448.5 449.2 L449.0 450.9 L448.5 452.7 L450.2 454.4 L453.1 455.3 L456.5 456.1 L459.4 457.3 L462.3 459.0 L464.0 461.1 L466.3 461.3 L467.5 462.2 L465.8 463.0 L466.9 465.3 L468.7 467.7 L471.0 469.6 L471.5 472.3 L471.8 474.6 L472.1 476.9 L473.3 477.8 L474.3 479.3 L475.3 482.1 L474.3 481.2 L472.9 479.0 L471.9 478.8 L471.5 480.9 L471.3 484.4 L471.0 487.8 L470.4 491.3 L469.2 494.8 L468.3 496.5 L467.5 497.3 L464.6 496.8 L461.2 496.2 L457.7 496.5 L454.2 495.9 L449.6 495.3 L446.2 494.8 L442.7 495.0 L439.2 494.8 L435.8 494.5 L432.3 494.2 L429.4 494.8 L426.5 495.3 L423.7 497.1 L421.3 498.0 L419.6 499.0 L418.8 499.6 L419.6 501.9 L420.3 504.2 L420.8 507.1 L420.2 510.0 L421.3 512.8 L421.9 516.3 L421.7 519.8 L420.8 523.2 L420.2 526.7 L419.0 530.2 L417.9 532.5 L416.7 534.8 L416.4 536.5 L418.5 536.2 L419.8 535.5 L419.4 537.1 L417.5 538.2 L416.7 539.2 L418.2 541.1 L419.4 545.2 L419.0 548.6 L418.5 551.5 L420.8 552.7 L424.2 552.3 L428.8 551.5 L433.5 551.8 L436.9 553.2 L437.5 554.0 L436.9 554.6 L437.7 556.5 L439.2 558.6 L441.0 560.3 L442.2 561.2 L443.8 559.4 L445.6 557.7 L447.9 556.3 L450.8 555.4 L454.2 555.2 L457.7 554.9 L461.2 554.6 L464.6 554.0 L465.8 554.0 L466.3 553.2 L468.1 550.3 L470.4 548.6 L473.3 548.0 L474.4 546.3 L475.6 544.0 L477.3 542.3 L479.6 540.5 L481.3 538.8 L479.6 537.7 L477.9 535.3 L477.3 533.0 L477.9 530.2 L479.6 527.3 L482.5 523.8 L484.2 522.1 L484.8 519.8 L487.1 518.0 L490.0 516.3 L491.2 516.1 L493.5 514.9 L496.3 512.8 L499.2 510.5 L501.0 508.2 L501.1 504.8 L500.4 501.3 L501.0 499.0 L501.0 499.0 L502.7 497.3 L505.6 495.7 L508.5 497.1 L511.9 497.3 L514.2 498.2 L515.2 499.3 L516.8 500.1 L519.4 500.4 L522.1 500.0 L523.5 499.0 L524.6 497.1 L526.9 494.8 L529.8 493.0 L532.7 491.3 L535.0 489.0 L537.3 487.8 L540.8 489.0 L544.2 490.7 L546.5 492.5 L547.1 494.8 L548.3 497.1 L548.8 499.0 L550.0 501.9 L552.9 504.8 L555.8 507.7 L558.7 510.5 L561.5 512.8 L563.8 514.6 L565.0 515.7 L567.3 516.0 L567.0 516.2 L569.4 517.0 L571.5 518.6 L573.5 520.2 L575.5 521.4 L577.1 522.6 L578.7 523.8 L580.3 525.4 L581.9 527.0 L583.5 528.6 L584.7 530.6 L585.5 533.1 L586.1 535.5 L585.9 537.5 L585.1 539.1 L584.7 540.7 L584.3 542.7 L583.7 544.3 L584.3 545.1 L585.5 544.3 L586.7 542.7 L587.9 541.1 L589.1 539.5 L590.7 537.9 L592.3 536.5 L593.1 535.1 L592.7 533.1 L591.5 531.5 L590.3 530.2 L589.3 529.0 L589.7 527.0 L590.7 525.0 L591.9 523.4 L593.5 523.0 L595.5 523.8 L597.1 525.0 L598.7 526.6 L599.9 528.2 L601.1 528.5 L601.9 527.0 L601.4 525.0 L599.9 523.0 L597.9 521.0 L595.5 519.4 L593.1 518.0 L590.7 516.8 L588.7 515.8 L587.1 515.0 L586.3 514.2 L584.8 512.8 L585.8 511.7 L586.5 510.7 L584.0 510.0 L581.2 508.8 L577.7 507.1 L574.8 504.8 L572.5 501.9 L571.3 499.0 L567.9 495.9 L565.0 492.5 L562.7 491.9 L561.5 490.2 L560.4 487.3 L561.0 484.4 L560.6 481.5 L560.4 478.6 L562.1 477.5 L565.0 476.9 L567.3 475.2 L569.6 475.4 L569.8 477.5 L569.6 479.2 L571.3 482.1 L572.8 484.2 L573.8 481.5 L574.8 479.0 L576.5 480.3 L577.5 483.0 L578.6 485.3 L580.0 487.3 L581.2 489.6 L583.5 492.5 L585.8 494.8 L588.1 496.5 L591.0 497.7 L592.7 499.0 L593.8 499.0 L596.2 501.3 L599.6 504.2 L603.1 507.1 L606.0 509.4 L608.3 511.7 L608.4 512.4 L608.0 514.8 L607.6 518.0 L607.4 521.2 L607.6 524.1 L608.8 526.1 L610.4 528.1 L612.0 529.7 L613.3 531.7 L614.5 533.3 L616.1 534.9 L618.1 535.9 L619.3 536.3 L618.6 537.7 L618.9 539.7 L619.5 541.3 L619.3 541.2 L621.1 540.6 L623.3 540.4 L625.4 540.6 L627.9 541.2 L630.1 542.1 L631.6 543.2 L631.4 543.9 L629.4 543.3 L627.3 542.7 L625.1 542.2 L623.0 542.1 L621.1 542.5 L619.8 543.5 L619.7 545.3 L620.5 546.9 L621.7 548.5 L622.5 550.2 L622.9 552.2 L623.7 553.8 L624.5 554.6 L625.3 553.4 L625.7 552.6 L626.5 553.8 L627.3 555.4 L627.9 556.4 L628.5 555.0 L628.9 553.8 L629.7 555.0 L630.9 556.6 L631.7 558.2 L632.1 556.6 L631.7 554.2 L630.9 551.8 L630.1 549.8 L630.9 548.5 L632.1 547.7 L633.3 548.5 L634.1 549.3 L634.5 548.1 L633.7 546.5 L632.5 545.3 L632.3 544.5 L632.1 544.0 L633.5 543.6 L635.3 544.1 L637.2 545.2 L638.7 546.5 L639.5 545.9 L639.0 544.4 L637.8 542.9 L636.2 541.7 L634.7 540.7 L632.8 539.8 L631.3 538.8 L629.9 537.8 L629.0 536.7 L629.6 535.7 L631.0 534.6 L630.9 533.5 L631.5 532.3 L630.2 530.1 L629.3 528.0 L628.8 525.8 L629.1 523.6 L630.4 522.1 L631.7 522.9 L633.1 524.4 L634.2 525.6 L635.0 526.9 L635.8 527.1 L636.2 526.0 L637.0 525.4 L637.8 526.2 L638.5 526.9 L639.0 525.8 L638.5 524.3 L637.8 522.7 L637.2 521.2 L638.7 520.7 L642.1 520.9 L660.0 520.0 L660.0 430.0 L469.2 430.0 Z" fill="#fff"/>
<path d="M410.0 596.3 L415.9 596.1 L416.7 593.8 L417.9 590.9 L419.0 588.0 L420.8 585.7 L423.1 583.4 L426.0 581.7 L428.8 580.0 L432.3 577.7 L434.6 575.3 L436.3 573.0 L437.5 570.2 L438.7 567.3 L439.8 564.4 L441.3 562.3 L442.7 561.8 L443.8 562.7 L445.6 565.0 L447.9 566.7 L450.8 567.3 L454.2 566.5 L457.7 566.1 L460.6 567.6 L463.5 567.8 L466.3 567.3 L469.2 565.5 L472.1 563.8 L475.0 562.7 L477.9 562.1 L479.6 560.3 L482.5 559.2 L485.4 557.5 L488.9 556.6 L492.8 555.7 L496.8 554.6 L500.7 553.6 L504.6 553.0 L508.5 553.3 L512.5 554.9 L515.1 555.3 L517.7 553.3 L521.0 552.3 L524.2 551.7 L528.2 552.0 L532.1 552.7 L535.3 553.3 L538.0 552.0 L540.6 550.4 L543.2 549.6 L545.4 550.4 L546.5 552.7 L548.4 554.6 L550.4 553.6 L552.3 552.0 L553.0 553.3 L551.7 555.9 L550.1 557.9 L549.7 560.5 L551.0 563.1 L552.3 565.7 L552.9 566.7 L551.2 569.6 L548.8 572.5 L546.5 574.8 L546.0 577.1 L547.7 578.8 L550.0 580.0 L552.9 581.7 L556.3 584.0 L559.2 585.2 L562.7 586.3 L565.0 586.5 L568.5 586.1 L571.9 586.9 L575.4 588.0 L578.8 589.2 L581.2 590.9 L582.3 593.8 L584.0 596.1 L586.9 597.6 L590.4 598.4 L593.8 599.2 L597.3 600.7 L600.2 602.5 L602.5 604.5 L604.8 605.9 L607.1 606.2 L609.4 604.8 L611.2 602.5 L612.3 600.2 L611.7 597.3 L611.2 594.4 L612.3 591.5 L614.0 589.2 L616.9 587.7 L620.4 586.5 L623.8 586.1 L627.3 586.9 L630.2 588.0 L631.9 590.0 L634.2 591.2 L637.1 591.5 L645.8 592.1 L660.0 620.0 L410.0 620.0 Z" fill="#fff"/>
<path d="M541.3 500.7 L541.9 502.5 L542.5 505.9 L543.1 509.4 L542.5 512.3 L541.3 514.6 L539.6 515.2 L537.9 513.4 L536.7 510.5 L536.2 507.1 L536.7 504.8 L538.5 503.0 L540.4 502.5 Z" fill="#fff"/>
<path d="M540.8 516.3 L542.5 517.5 L543.7 520.3 L544.2 524.4 L544.0 529.0 L543.3 532.5 L541.9 534.2 L540.2 534.8 L539.0 536.5 L537.3 537.1 L535.6 535.3 L535.0 532.5 L534.4 529.0 L534.8 525.5 L533.8 522.1 L533.6 520.3 L535.6 519.2 L537.9 518.0 Z" fill="#fff"/>
<path d="M495.2 530.2 L496.9 528.4 L499.8 527.8 L501.5 528.8 L502.1 530.7 L501.0 532.5 L499.2 533.4 L496.9 532.7 L495.5 531.9 Z" fill="#fff"/>
<path d="M505.0 526.7 L507.3 526.9 L508.2 528.4 L506.7 529.0 L505.0 528.1 Z" fill="#fff"/>
<path d="M487.5 535.7 L490.0 535.1 L491.4 535.9 L490.6 537.1 L488.3 537.1 Z" fill="#fff"/>
<path d="M562.2 544.3 L563.4 543.5 L565.4 542.7 L567.8 543.1 L570.2 543.7 L572.7 544.0 L575.1 543.9 L577.5 543.5 L579.9 542.7 L581.9 542.3 L582.7 542.7 L582.3 544.3 L581.5 546.3 L580.7 548.3 L580.3 550.3 L580.7 552.3 L579.9 554.3 L578.7 555.1 L577.1 554.7 L575.5 553.5 L573.5 552.3 L571.0 550.7 L568.6 549.5 L566.2 548.3 L564.2 547.1 L562.6 545.9 L562.1 544.9 Z" fill="#fff"/>
<path d="M630.2 536.3 L631.7 535.1 L633.5 535.9 L635.3 536.7 L637.2 537.7 L638.7 538.8 L640.6 539.7 L640.6 541.6 L639.0 540.8 L637.2 539.8 L635.3 538.8 L633.5 537.8 L631.6 537.0 Z" fill="#fff"/>
<path d="M635.4 565.0 L640.0 565.0 L640.0 566.7 L635.4 566.7 Z" fill="#fff"/>
<circle cx="547.1" cy="502.5" r="0.50" fill="#fff"/>
<circle cx="575.1" cy="561.7" r="0.45" fill="#fff"/>
<circle cx="615.7" cy="538.5" r="0.60" fill="#fff"/>
<circle cx="615.7" cy="542.7" r="0.80" fill="#fff"/>
<circle cx="616.9" cy="546.1" r="0.60" fill="#fff"/>
<circle cx="631.3" cy="559.2" r="0.40" fill="#fff"/>
<path d="M420.2 509.6 L423.1 508.8 L426.0 510.5 L428.8 511.1 L432.3 510.3 L435.8 510.5 L438.1 513.4 L436.3 515.7 L434.6 518.0 L433.5 520.9 L434.0 523.8 L432.9 526.7 L431.7 529.0 L429.4 530.2 L430.6 533.0 L432.3 535.3 L431.2 538.2 L431.7 541.1 L432.9 543.4 L430.6 546.3 L429.4 549.2 L430.0 551.5" fill="none" stroke="#6d7177" stroke-width="0.62" stroke-linejoin="round"/>
<path d="M467.5 497.3 L469.2 499.6 L472.7 501.3 L477.3 503.0 L481.9 503.6 L486.5 504.8 L490.0 505.9 L494.6 505.3 L499.2 505.9 L501.0 504.8" fill="none" stroke="#6d7177" stroke-width="0.62" stroke-linejoin="round"/>
<path d="M465.8 567.8 L466.7 571.3 L467.5 574.8 L468.1 578.2 L468.7 581.7 L469.2 585.2 L471.5 588.0 L471.0 590.9 L468.1 591.5 L464.6 591.5 L461.2 592.1 L458.8 593.8 L455.4 595.5 L454.2 598.4 L454.8 600.2 L451.9 601.9 L449.0 603.6 L446.7 605.3 L445.2 607.3" fill="none" stroke="#6d7177" stroke-width="0.62" stroke-linejoin="round"/>
<path d="M535.3 553.3 L534.7 557.2 L534.4 561.2 L535.0 565.1 L534.4 563.2 L535.0 566.7 L533.8 570.2 L531.5 573.0 L529.2 575.9 L528.3 578.2 L529.2 581.1 L531.5 584.0 L533.8 586.9 L536.2 589.8 L538.5 592.7 L539.6 596.1 L540.8 600.2 L541.7 604.2 L542.5 607.3" fill="none" stroke="#6d7177" stroke-width="0.62" stroke-linejoin="round"/>
<path d="M555.8 584.2 L556.0 588.0 L554.0 590.3 L551.2 592.7 L548.8 595.0 L546.5 597.8 L547.1 601.3 L545.4 604.8 L543.3 607.3" fill="none" stroke="#6d7177" stroke-width="0.62" stroke-linejoin="round"/>
<path d="M533.3 444.6 L531.5 447.5 L530.4 450.9 L529.8 454.4 L529.2 457.3" fill="none" stroke="#6d7177" stroke-width="0.62" stroke-linejoin="round"/>
<path d="M529.2 457.3 L526.9 458.4 L524.6 459.6 L522.9 462.5 L520.6 465.9 L518.8 468.8 L518.6 471.1 L520.6 470.0 L522.9 468.2 L524.6 470.5 L525.2 473.4 L528.1 473.4 L531.0 472.8 L533.3 470.0 L535.0 468.2 L537.3 471.7 L539.0 474.0 L540.8 471.1 L541.3 468.8 L543.7 468.2 L546.0 470.0 L547.1 467.7 L547.7 465.3 L545.4 464.2 L543.1 462.5 L542.5 460.2 L543.7 457.8 L540.8 457.3 L537.9 456.1 L535.6 455.5 L532.7 456.7 L529.2 457.3" fill="none" stroke="#6d7177" stroke-width="0.62" stroke-linejoin="round"/>
<path d="M543.7 457.8 L546.5 460.2 L548.8 457.8 L551.2 459.0 L554.0 458.4 L556.9 457.3 L559.8 456.7 L562.7 456.1 L565.0 455.5 L565.0 455.0 L567.3 450.9 L569.6 447.5 L570.8 444.6" fill="none" stroke="#6d7177" stroke-width="0.62" stroke-linejoin="round"/>
<path d="M547.7 465.3 L550.0 464.8 L552.9 463.6 L555.8 462.5 L558.7 461.9 L560.4 463.0 L561.5 465.3 L565.0 466.5 L565.0 467.1 L568.5 468.2 L571.9 468.8 L576.0 467.7 L580.0 466.5 L583.5 465.9 L586.3 465.3" fill="none" stroke="#6d7177" stroke-width="0.62" stroke-linejoin="round"/>
<path d="M525.2 473.4 L524.6 476.3 L523.5 478.6 L522.9 481.5 L524.6 483.8 L524.0 486.1 L525.2 488.4 L527.5 489.6 L529.8 490.7 L530.4 492.2" fill="none" stroke="#6d7177" stroke-width="0.62" stroke-linejoin="round"/>
<path d="M569.6 444.6 L571.9 446.9 L575.4 446.9 L577.7 445.2 L578.8 444.3" fill="none" stroke="#6d7177" stroke-width="0.62" stroke-linejoin="round"/>
<path d="M582.3 444.6 L586.9 445.7 L591.0 446.3 L592.1 449.2 L592.7 453.2 L591.5 455.5 L589.8 457.3 L588.7 460.7 L587.5 463.6 L586.3 465.3" fill="none" stroke="#6d7177" stroke-width="0.62" stroke-linejoin="round"/>
<path d="M591.0 446.3 L593.8 445.2 L597.3 444.3" fill="none" stroke="#6d7177" stroke-width="0.62" stroke-linejoin="round"/>
<path d="M592.7 453.2 L596.2 455.0 L599.6 455.5 L603.1 455.0 L606.5 453.2 L610.0 451.5 L613.5 449.2 L616.9 448.0 L620.4 448.0 L623.8 449.2 L626.2 449.8 L627.9 447.5 L627.3 444.6" fill="none" stroke="#6d7177" stroke-width="0.62" stroke-linejoin="round"/>
<path d="M626.2 449.8 L629.6 452.1 L631.9 453.8 L634.2 453.2 L640.0 453.8" fill="none" stroke="#6d7177" stroke-width="0.62" stroke-linejoin="round"/>
<path d="M631.9 453.8 L629.6 456.7 L627.3 459.6 L625.0 462.5 L623.3 465.3 L621.5 468.2 L619.2 470.5 L615.8 471.7 L614.0 472.3" fill="none" stroke="#6d7177" stroke-width="0.62" stroke-linejoin="round"/>
<path d="M586.3 465.3 L588.1 467.7 L589.8 470.0 L592.7 472.3 L596.2 474.0 L599.6 474.9 L603.1 474.2 L604.8 473.4 L608.8 472.3 L614.0 472.3" fill="none" stroke="#6d7177" stroke-width="0.62" stroke-linejoin="round"/>
<path d="M587.5 467.7 L585.2 470.0 L583.5 472.3 L582.3 474.6 L580.0 476.3 L581.2 478.0 L577.7 478.6 L574.8 477.5 L571.9 476.9 L570.2 477.5" fill="none" stroke="#6d7177" stroke-width="0.62" stroke-linejoin="round"/>
<path d="M568.5 468.2 L567.9 471.1 L569.0 473.4 L569.8 475.4" fill="none" stroke="#6d7177" stroke-width="0.62" stroke-linejoin="round"/>
<path d="M597.9 499.0 L595.6 497.1 L592.7 494.8 L589.8 491.9 L587.5 489.0 L585.2 486.1 L583.5 483.2 L584.0 480.9 L586.3 480.3 L589.8 480.9 L593.3 480.3 L597.3 480.9 L600.8 481.5 L604.2 480.9 L606.0 482.1 L605.4 485.0 L606.5 487.8 L607.1 491.3 L608.3 493.6 L606.5 495.9 L605.4 499.0" fill="none" stroke="#6d7177" stroke-width="0.62" stroke-linejoin="round"/>
<path d="M604.8 473.4 L605.4 476.9 L607.1 479.8 L606.0 482.1" fill="none" stroke="#6d7177" stroke-width="0.62" stroke-linejoin="round"/>
<path d="M614.0 472.3 L616.3 475.2 L618.7 478.0 L620.4 480.9 L621.5 483.8 L624.4 485.0 L627.9 486.1 L629.0 489.0 L629.6 490.2 L627.9 492.5 L628.5 495.3 L630.8 497.7 L631.9 499.0" fill="none" stroke="#6d7177" stroke-width="0.62" stroke-linejoin="round"/>
<path d="M629.6 490.2 L633.1 491.9 L640.0 493.0" fill="none" stroke="#6d7177" stroke-width="0.62" stroke-linejoin="round"/>
<path d="M616.1 510.0 L615.3 511.6 L614.9 513.6 L615.7 516.0 L617.3 518.0 L619.7 518.8 L622.5 518.4 L624.9 517.6 L627.3 517.2 L629.7 516.0 L630.9 514.4 L631.3 512.4 L630.9 510.0" fill="none" stroke="#6d7177" stroke-width="0.62" stroke-linejoin="round"/>
<path d="M617.3 518.0 L618.1 520.4 L617.3 522.8 L616.1 524.9 L614.9 526.5 L613.7 528.1 L612.8 529.7" fill="none" stroke="#6d7177" stroke-width="0.62" stroke-linejoin="round"/>
<path d="M630.9 514.4 L633.7 514.8 L636.9 514.4 L641.8 514.0" fill="none" stroke="#6d7177" stroke-width="0.62" stroke-linejoin="round"/>
<path d="M597.9 499.0 L599.8 501.7 L601.5 503.4 L603.4 502.7 L605.0 500.0 L605.4 498.6" fill="none" stroke="#6d7177" stroke-width="0.62" stroke-linejoin="round"/>
<path d="M601.5 503.4 L604.4 506.1 L607.1 508.8 L608.4 510.9" fill="none" stroke="#6d7177" stroke-width="0.62" stroke-linejoin="round"/>
<path d="M605.4 499.3 L609.1 500.8 L612.2 503.4 L611.2 506.8 L609.1 510.2 L610.8 511.9 L613.4 511.2 L615.6 513.6 L616.1 510.5" fill="none" stroke="#6d7177" stroke-width="0.62" stroke-linejoin="round"/>
<path d="M612.2 503.4 L615.1 500.0 L618.5 499.2 L621.8 502.5 L623.5 505.9 L621.0 508.5 L617.6 509.3 L615.1 507.6 L612.2 503.4" fill="none" stroke="#6d7177" stroke-width="0.62" stroke-linejoin="round"/>
<path d="M631.9 499.0 L630.5 502.5 L630.3 505.4 L628.6 508.1" fill="none" stroke="#6d7177" stroke-width="0.62" stroke-linejoin="round"/>
</g>
</svg>
<svg style="left:420.4px;top:449.2px" width="7" height="16" viewBox="0 0 7 16"><rect x="0.2" y="0.2" width="6.5" height="6.5" rx="1.2" fill="#24282f"/><rect x="0.2" y="9.2" width="6.5" height="6.5" rx="1.2" fill="#24282f"/><path d="M2 3.45 H4.9 M3.45 2 V4.9 M2.1 12.45 H4.8" stroke="#fff" stroke-width="1"/></svg>
<div class="a" style="left:137.00px;top:623.80px;width:503.40px;height:0.60px;background:#eeeeee;"></div>
<div class="t " style="left:137.10px;top:634.90px;font-size:5.54px;color:#a0a1a4">Copyright &copy; 2021.Company name All rights reserved.</div>
<svg style="left:269.40px;top:631.80px" width="23" height="7" viewBox="0 0 23 7"><path transform="translate(0.0,0)" d="M0.4 0.6 H4.8 V6.2 M0.4 0.6 V6.2 M1.2 2 L2.2 4.4 M2.2 2 L1.2 4.4 M3 2 L4 4.4 M4 2 L3 4.4" fill="none" stroke="#4d5560" stroke-width="0.55"/><path transform="translate(5.4,0)" d="M0.3 0.6 H5 M2.6 0.6 V1.6 M1 1.8 H4.4 V4.4 H1 Z M1 3.1 H4.4 M1.8 4.6 L0.4 6.2 M3.4 4.6 L5 6.2" fill="none" stroke="#4d5560" stroke-width="0.55"/><path transform="translate(10.8,0)" d="M1.2 0.4 V6.2 M0.2 1.8 H2.2 M0.3 4.4 L1.2 2.6 L2.2 3.8 M3 0.6 H5.2 M2.8 1.8 H5.3 V3.6 H2.8 Z M2.6 4.6 H5.4 M4 3.6 L2.8 6.2 M4 4.6 L5.4 6.2" fill="none" stroke="#4d5560" stroke-width="0.55"/><path transform="translate(16.2,0)" d="M1.2 0.4 V6.2 M0.2 1.8 H2.2 M0.3 4.4 L1.2 2.6 L2.2 3.8 M3.8 0.3 V1.6 M2.6 1.2 H5.3 M2.8 2.2 H5.2 M2.8 3.2 H5.2 M2.8 2.2 V4.2 H5.2 V2.2 M4 4.2 V6.2 M2.6 5.2 H5.4" fill="none" stroke="#4d5560" stroke-width="0.55"/></svg>
</div></body></html>
